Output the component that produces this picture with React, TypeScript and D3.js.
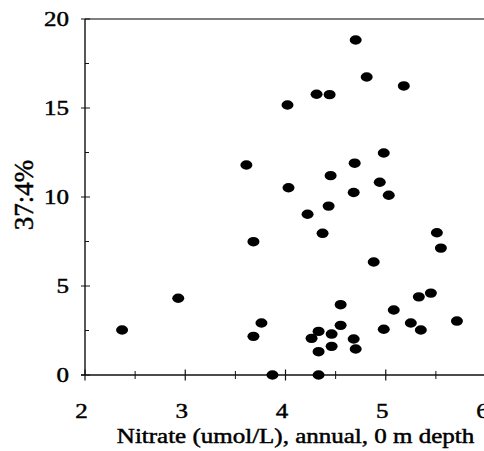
import React from "react";
import * as d3 from "d3";

const nitrate = [
  2.37, 2.93, 3.61, 3.68, 3.68, 3.76, 3.87, 4.02, 4.03, 4.22, 4.31, 4.44, 4.26, 4.33,
  4.33, 4.33, 4.37, 4.43, 4.45, 4.46, 4.46, 4.55, 4.55, 4.68, 4.69, 4.68, 4.7, 4.7,
  4.81, 4.88, 4.94, 4.98, 5.03, 4.98, 5.08, 5.18, 5.25, 5.33, 5.35, 5.45, 5.51, 5.55, 5.71,
];
const percent = [
  2.53, 4.31, 11.8, 7.49, 2.17, 2.92, 0, 15.17, 10.52, 9.03, 15.77, 15.75, 2.06, 2.45,
  1.31, 0, 7.96, 9.49, 11.2, 2.3, 1.61, 3.95, 2.79, 10.25, 11.9, 2.02, 1.46, 18.82,
  16.74, 6.35, 10.83, 12.47, 10.1, 2.57, 3.65, 16.24, 2.92, 4.39, 2.53, 4.6, 7.99, 7.13, 3.03,
];
const xMajorTicks = [2, 3, 4, 5, 6];
const xMinorTicks = [2.5, 3.5, 4.5, 5.5];
const yMajorTicks = [0, 5, 10, 15, 20];
const yMinorTicks = [2.5, 7.5, 12.5, 17.5];
const xTitle = "Nitrate (umol/L), annual, 0 m depth";
const yTitle = "37:4%";

export default function App() {
  const W = 484;
  const H = 451;
  const x = d3.scaleLinear().domain([2, 6]).range([85, 486]);
  const y = d3.scaleLinear().domain([0, 20]).range([375, 19]);
  const font = "'Liberation Serif', 'Times New Roman', serif";
  const textStyle = { fontFamily: font, fontSize: 20, fill: "#000", stroke: "#000", strokeWidth: 0.45 };
  return (
    <svg
      width={W}
      height={H}
      style={{ position: "absolute", left: 0, top: 0, background: "#fff" }}
    >
      {/* top frame line */}
      <line x1={x(2)} x2={W} y1={y(20)} y2={y(20)} stroke="#555" strokeWidth={1.3} />
      {/* left axis */}
      <line x1={x(2)} x2={x(2)} y1={y(20)} y2={y(0)} stroke="#111" strokeWidth={1.4} />
      {/* bottom axis */}
      <line x1={x(2) - 4} x2={W} y1={y(0)} y2={y(0)} stroke="#111" strokeWidth={1.5} />
      {yMajorTicks.map((t) => (
        <line key={"ym" + t} x1={x(2) - 4} x2={x(2) + 5} y1={y(t)} y2={y(t)} stroke="#111" strokeWidth={1} />
      ))}
      {yMinorTicks.map((t) => (
        <line key={"yn" + t} x1={x(2)} x2={x(2) + 4} y1={y(t)} y2={y(t)} stroke="#111" strokeWidth={1} />
      ))}
      {xMajorTicks.map((t) => (
        <line key={"xm" + t} x1={x(t)} x2={x(t)} y1={y(0) - 5.5} y2={y(0) + 5.5} stroke="#111" strokeWidth={1.2} />
      ))}
      {xMinorTicks.map((t) => (
        <line key={"xn" + t} x1={x(t)} x2={x(t)} y1={y(0) - 4} y2={y(0) + 4} stroke="#111" strokeWidth={1} />
      ))}
      {yMajorTicks.map((t) => (
        <text
          key={"yl" + t}
          transform={`translate(69,${y(t)}) scale(1.25,1)`}
          dy="0.35em"
          textAnchor="end"
          style={textStyle}
        >
          {t}
        </text>
      ))}
      {xMajorTicks.map((t) => (
        <text
          key={"xl" + t}
          transform={`translate(${x(t) - 3.5},418) scale(1.25,1)`}
          textAnchor="middle"
          style={textStyle}
        >
          {t}
        </text>
      ))}
      <text transform="translate(295.5,443) scale(1.25,1)" textAnchor="middle" style={textStyle}>
        {xTitle}
      </text>
      <text
        transform={`translate(33,195) rotate(-90)`}
        textAnchor="middle"
        style={{ ...textStyle, fontSize: 27 }}
      >
        {yTitle}
      </text>
      {nitrate.map((v, i) => (
        <ellipse key={"p" + i} cx={x(v)} cy={y(percent[i])} rx={6} ry={4.7} fill="#000" />
      ))}
    </svg>
  );
}
